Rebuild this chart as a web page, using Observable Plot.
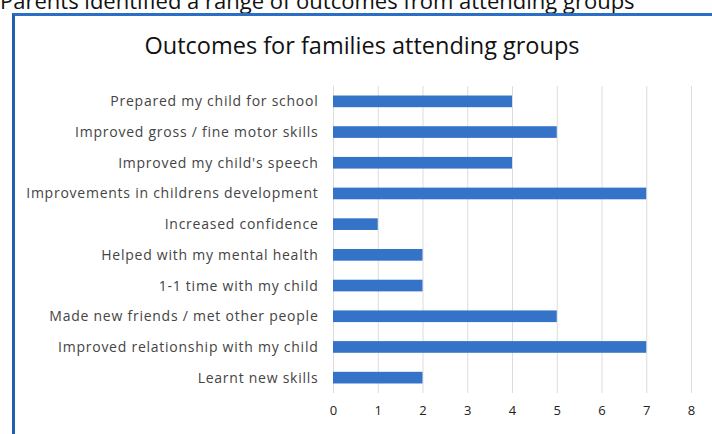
<!DOCTYPE html>
<html>
<head>
<meta charset="utf-8">
<script src="https://cdn.jsdelivr.net/npm/d3@7"></script>
<script src="https://cdn.jsdelivr.net/npm/@observablehq/plot@0.6"></script>
<style>
  html, body { margin: 0; padding: 0; background: #fff; }
  #wrap { position: relative; width: 712px; height: 434px; overflow: hidden; background: #fff; }
  #cut { position: absolute; left: 0; top: -15px; font: 22px "Open Sans", sans-serif; color: #111; white-space: nowrap; }
  #box { position: absolute; left: 12px; top: 13px; width: 760px; height: 500px; border-left: 3px solid #1f5fae; border-top: 3px solid #2a6fc4; box-sizing: border-box; }
  #title { position: absolute; left: 0; width: 724px; top: 29px; text-align: center; font: 23.5px "Open Sans", sans-serif; color: #111; }
  #chart { position: absolute; left: 0; top: 0; }
  #chart g[aria-label="y-axis tick label"] text { letter-spacing: 0.75px; }
</style>
</head>
<body>
<div id="wrap">
  <div id="cut">Parents identified a range of outcomes from attending groups</div>
  <div id="box"></div>
  <div id="title">Outcomes for families attending groups</div>
  <div id="chart"></div>
</div>
<script>
const categories = [
  "Prepared my child for school",
  "Improved gross / fine motor skills",
  "Improved my child's speech",
  "Improvements in childrens development",
  "Increased confidence",
  "Helped with my mental health",
  "1-1 time with my child",
  "Made new friends / met other people",
  "Improved relationship with my child",
  "Learnt new skills"
];
const values = [4, 5, 4, 7, 1, 2, 2, 5, 7, 2];
const xTicks = [0, 1, 2, 3, 4, 5, 6, 7, 8];

const data = categories.map((c, i) => ({category: c, value: values[i]}));

const plot = Plot.plot({
  width: 712,
  height: 434,
  marginLeft: 333,
  marginRight: 21,
  marginTop: 86,
  marginBottom: 41,
  style: {fontFamily: "'Open Sans', sans-serif", fontSize: "13px", color: "#333", background: "transparent"},
  x: {domain: [0, 8], ticks: xTicks, tickSize: 0, tickPadding: 12, label: null},
  y: {domain: categories, paddingInner: 0.62, paddingOuter: 0.31, round: false, tickSize: 0, tickPadding: 16, label: null},
  marks: [
    Plot.gridX(xTicks, {stroke: "#dcdcdc", strokeOpacity: 1}),
    Plot.barX(data, {x: "value", y: "category", fill: "#3473c8"}),
    Plot.axisX({ticks: xTicks, tickSize: 0, tickPadding: 12, fontSize: 13, fill: "#222"}),
    Plot.axisY({tickSize: 0, tickPadding: 15, fontSize: 14, fill: "#444"})
  ]
});
document.getElementById("chart").appendChild(plot);
</script>
</body>
</html>
